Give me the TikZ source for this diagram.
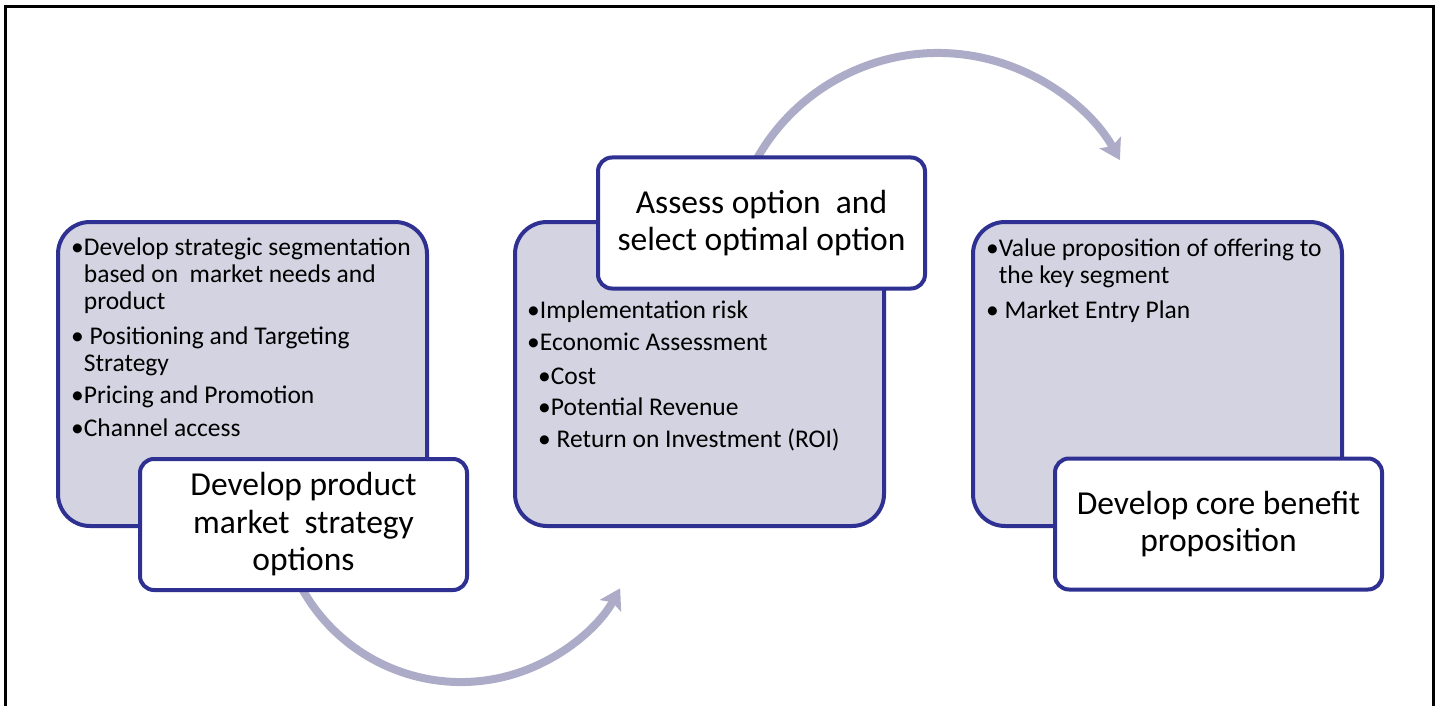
\documentclass[tikz,border=0pt]{standalone}
\usepackage{fontspec}
\setmainfont{Carlito}
\usetikzlibrary{arrows.meta,calc}
\definecolor{navy}{RGB}{46,48,146}
\definecolor{boxgrey}{RGB}{211,211,225}
\definecolor{arcgrey}{RGB}{172,172,201}
\tikzset{
  bigbox/.style={draw=navy, fill=boxgrey, line width=4pt, rounded corners=32pt,
    minimum width=369pt, minimum height=304pt, inner sep=0pt},
  titlebox/.style={draw=navy, fill=white, line width=4pt, rounded corners=14pt,
    minimum width=327pt, minimum height=131pt, inner sep=0pt, align=center,
    font=\fontsize{33.5}{37.5}\selectfont},
  listtext/.style={anchor=north west, inner sep=0pt, align=left,
    font=\fontsize{25.5}{27}\selectfont},
  flowarc/.style={draw=arcgrey, line width=8pt,
    -{Stealth[length=20pt, width=24pt, inset=4pt]}},
  frameline/.style={draw=black, line width=3pt}
}
\newcommand{\bul}{\textbullet}
\newcommand{\ind}{\hphantom{\textbullet}}
\begin{document}
\begin{tikzpicture}[x=1pt,y=1pt]
\useasboundingbox (0,0) rectangle (1441,-706);
% outer frame (open at the bottom)
\draw[frameline] (5,-706) -- (5,-7) -- (1433,-7) -- (1433,-706);

% arc centres and start points
\coordinate (c1) at (461,-500);
\coordinate (c2) at (938,-261);
\coordinate (a1start) at ($(c1)+(200:182)$);
\coordinate (a2start) at ($(c2)+(162:208)$);

% arcs (drawn first, partly hidden under the title boxes)
\draw[flowarc] (a1start) arc[start angle=200, end angle=331, radius=182];
\draw[flowarc] (a2start) arc[start angle=162, end angle=29, radius=208];

% big grey boxes
\node[bigbox] (b1) at (242.5,-374) {};
\node[bigbox] (b2) at (699.5,-374) {};
\node[bigbox] (b3) at (1157.5,-374) {};

% list texts
\node[listtext] (t1) at (71,-238) {%
\bul Develop strategic segmentation\\
\ind based on\ \ market needs and\\
\ind product\\[8pt]
\bul\ Positioning and Targeting\\
\ind Strategy\\[5pt]
\bul Pricing and Promotion\\[6pt]
\bul Channel access};

\node[listtext] (t2) at (527,-301) {%
\bul Implementation risk\\[5pt]
\bul Economic Assessment\\[7pt]
\hspace{11pt}\bul Cost\\[4pt]
\hspace{11pt}\bul Potential Revenue\\[5pt]
\hspace{11pt}\bul\ Return on Investment (ROI)};

\node[listtext] (t3) at (986,-239) {%
\bul Value proposition of offering to\\
\ind the key segment\\[8pt]
\bul\ Market Entry Plan};

% white title boxes
\node[titlebox] (h1) at (303.5,-524.5) {Develop product\\market\ \ strategy\\options};
\node[titlebox] (h2) at (761.5,-223) {Assess option\ \ and\\select optimal option};
\node[titlebox] (h3) at (1218.5,-524) {Develop core benefit\\proposition};
\end{tikzpicture}
\end{document}
